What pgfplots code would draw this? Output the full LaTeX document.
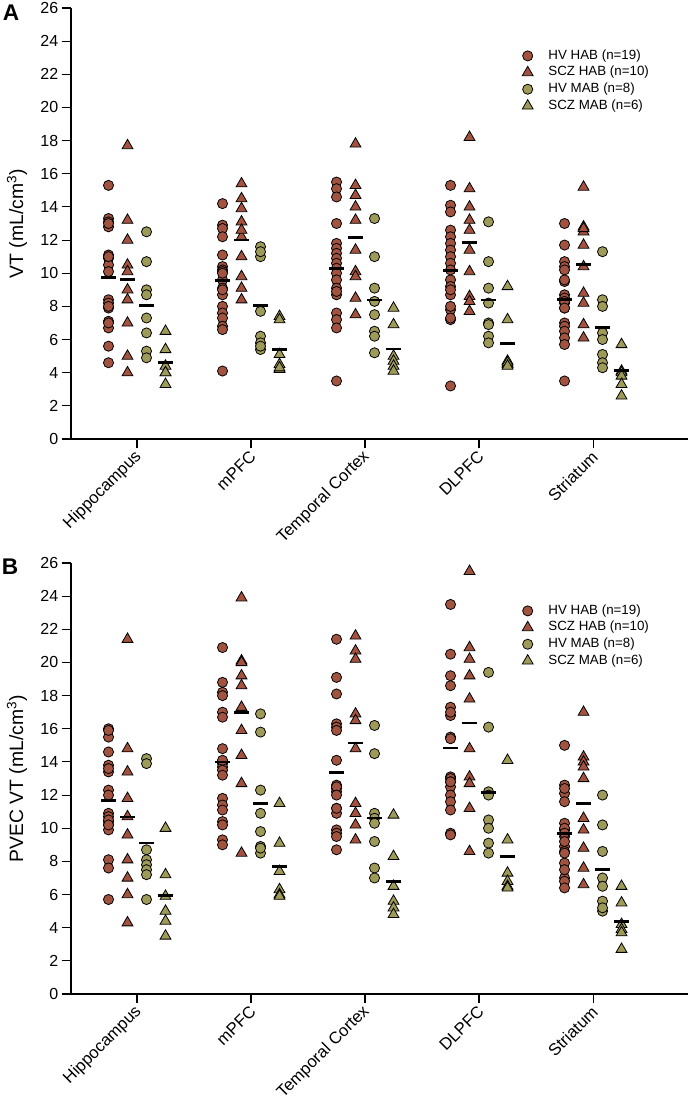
\documentclass[border=0pt]{standalone}
\usepackage{fontspec}
\setmainfont{Liberation Sans}
\usepackage{pgfplots}
\usepackage{pgfplotstable}
\pgfplotsset{compat=1.18}
\definecolor{hab}{HTML}{A2533F}
\definecolor{mab}{HTML}{9E9A58}

% panel A: VT, one column per region (Hippocampus, mPFC, Temporal Cortex, DLPFC, Striatum)
\pgfplotstableread{
c1 c2 c3 c4 c5
15.3 14.2 15.5 15.3 13.0
13.3 12.9 15.1 14.1 11.7
13.1 12.7 14.6 13.7 10.7
12.8 12.2 13.0 12.6 10.4
11.1 11.1 11.8 12.2 9.5
10.9 10.4 11.5 11.8 8.7
10.5 10.2 11.2 11.4 8.2
10.1 10.1 10.9 11.0 7.9
8.4 9.6 10.6 10.6 7.0
8.2 9.1 10.3 9.6 6.8
7.9 8.7 10.0 9.2 6.5
7.1 8.0 9.6 8.7 6.1
6.7 7.6 9.1 7.8 5.7
5.6 7.3 8.7 7.2 3.5
4.6 6.8 7.6 3.2 10.2
13.0 6.6 7.2 10.2 9.6
11.0 4.1 6.7 9.0 8.5
8.0 10.0 3.5 8.0 8.3
7.0 9.0 8.9 7.3 7.9
}\AhvH
\pgfplotstableread{
c1 c2 c3 c4 c5
17.7 15.4 17.8 18.2 15.2
13.2 14.5 15.3 15.1 12.8
12.0 13.9 14.7 14.0 12.5
10.5 13.1 14.0 13.2 11.7
10.1 12.2 13.2 12.6 10.4
9.0 11.0 11.4 11.4 8.8
8.4 9.8 10.1 10.1 6.9
7.0 9.1 9.8 8.6 6.1
5.0 8.4 8.5 8.3 12.7
4.0 12.6 7.5 7.7 8.2
}\AszH
\pgfplotstableread{
c1 c2 c3 c4 c5
12.5 11.6 13.3 13.1 11.3
10.7 11.0 11.0 10.7 8.4
9.0 7.7 9.1 9.1 8.0
8.7 6.2 8.3 8.2 6.4
7.3 5.8 7.5 7.0 6.0
6.4 5.4 6.5 6.2 5.1
5.3 11.3 6.2 5.8 4.6
4.9 5.6 5.2 6.9 4.3
}\AhvM
\pgfplotstableread{
c1 c2 c3 c4 c5
6.5 7.4 7.9 9.2 5.7
5.4 7.2 6.9 7.2 4.1
4.4 5.1 5.0 4.7 4.0
4.0 4.5 4.7 4.5 3.8
4.0 4.2 4.4 4.6 3.3
3.3 4.3 4.1 4.4 2.6
}\AszM
\pgfplotstableread{
r g1 g2 g3 g4
1 9.72 9.64 8.07 4.62
2 9.58 12.00 8.05 5.40
3 10.28 12.16 8.38 5.43
4 10.15 11.86 8.38 5.77
5 8.43 10.53 6.74 4.12
}\Amean

% panel B: PVEC VT
\pgfplotstableread{
c1 c2 c3 c4 c5
16.0 20.9 21.4 23.5 15.0
15.5 18.8 19.1 20.5 12.6
14.6 18.2 18.1 19.2 12.1
13.8 18.0 16.3 18.6 11.6
13.4 17.0 16.1 17.3 10.3
12.3 16.7 15.9 16.8 9.9
12.0 14.8 14.1 15.5 9.5
10.9 13.9 12.6 13.1 8.9
10.7 13.7 12.4 12.5 8.6
10.4 11.8 12.2 12.0 7.9
10.2 11.4 11.2 11.6 7.0
9.9 11.1 10.9 11.1 6.8
8.1 10.4 9.9 9.7 6.4
7.6 10.2 9.7 9.6 12.4
5.7 9.3 9.5 17.0 10.0
15.9 9.0 8.7 15.4 9.7
13.6 14.1 12.5 13.0 9.2
10.5 13.5 12.0 12.8 8.5
10.2 13.2 11.2 12.8 7.5
}\BhvH
\pgfplotstableread{
c1 c2 c3 c4 c5
21.4 23.9 21.6 25.5 17.0
14.8 20.1 20.7 20.9 14.3
13.4 20.0 20.2 20.2 14.0
11.8 19.2 16.9 19.2 13.7
10.7 18.6 16.5 17.8 13.0
9.6 17.3 14.8 14.8 10.6
8.1 15.9 11.5 13.1 9.9
7.0 14.4 10.9 12.7 8.8
6.0 12.7 10.2 11.2 7.6
4.3 8.5 9.3 8.6 6.6
}\BszH
\pgfplotstableread{
c1 c2 c3 c4 c5
14.2 16.9 16.2 19.4 12.0
13.9 15.8 14.5 16.1 10.2
8.7 12.3 10.9 12.2 8.6
8.1 10.9 10.6 12.0 7.0
7.8 9.8 10.3 10.5 6.5
7.5 8.9 9.2 10.0 5.6
7.2 8.5 7.6 9.1 5.0
5.7 8.8 7.0 8.5 5.2
}\BhvM
\pgfplotstableread{
c1 c2 c3 c4 c5
10.0 11.5 10.8 14.1 6.5
7.2 9.1 8.3 9.3 5.5
5.9 7.4 6.5 7.3 4.2
5.0 6.3 5.6 6.8 3.9
4.4 6.0 5.2 6.5 3.7
3.5 5.9 4.8 6.4 2.7
}\BszM
\pgfplotstableread{
r g1 g2 g3 g4
1 11.65 10.68 9.11 5.96
2 14.00 17.00 11.49 7.70
3 13.36 15.14 10.62 6.80
4 14.84 16.35 12.15 8.31
5 9.68 11.49 7.50 4.39
}\Bmean

\pgfplotsset{
  hvhab/.style={only marks, mark=*, mark size=3.8pt,
    mark options={fill=hab, draw=black, line width=0.6pt}},
  sczhab/.style={only marks, mark=triangle*, mark size=4.7pt,
    mark options={fill=hab, draw=black, line width=0.6pt}},
  hvmab/.style={only marks, mark=*, mark size=3.8pt,
    mark options={fill=mab, draw=black, line width=0.6pt}},
  sczmab/.style={only marks, mark=triangle*, mark size=4.7pt,
    mark options={fill=mab, draw=black, line width=0.6pt}},
  meanbar/.style={only marks, mark=-, mark size=5.7pt,
    mark options={draw=black, line width=2.1pt}, forget plot},
  panel/.style={
    scale only axis, width=462.75pt, height=323.25pt,
    xmin=0.421, xmax=5.833, ymin=0, ymax=26,
    ytick={0,2,...,26},
    xtick={1,2,3,4,5},
    xticklabels={Hippocampus,mPFC,Temporal Cortex,DLPFC,Striatum},
    axis x line*=bottom, axis y line*=left,
    tick align=outside, major tick length=7pt,
    axis line style={line width=0.8pt},
    every tick/.style={black, line width=0.8pt},
    /pgf/number format/assume math mode=true,
    yticklabel style={font=\fontsize{12}{14}\selectfont, xshift=1pt},
    xticklabel style={rotate=45, anchor=east, inner sep=1pt,
      xshift=-1pt, yshift=-4pt, font=\fontsize{12.5}{15}\selectfont},
    ylabel style={font=\fontsize{14.5}{17}\selectfont,
      at={(axis description cs:-0.0875,0.5)}, anchor=center},
    clip=false,
    legend cell align=left,
    legend style={draw=none, fill=none, at={(axis description cs:0.7245,0.915)},
      anchor=north west, font=\fontsize{10}{12}\selectfont, row sep=0pt,
      /tikz/every odd column/.append style={column sep=10pt},
      nodes={inner sep=1.5pt, text height=7.2pt, text depth=2.3pt}},
  }
}

\begin{document}
\begin{tikzpicture}
\useasboundingbox (-53.25pt,-497.25pt) rectangle (464.25pt,329.25pt);

\begin{axis}[panel, at={(0,0)}, anchor=south west, ylabel={VT (mL/cm\textsuperscript{3})}]
  \addlegendimage{hvhab}\addlegendentry{HV HAB (n=19)}
  \addlegendimage{sczhab}\addlegendentry{SCZ HAB (n=10)}
  \addlegendimage{hvmab}\addlegendentry{HV MAB (n=8)}
  \addlegendimage{sczmab}\addlegendentry{SCZ MAB (n=6)}
  \pgfplotsinvokeforeach{1,...,5}{
    \addplot[hvhab, forget plot] table[x expr=#1-0.25, y=c#1] {\AhvH};
    \addplot[sczhab, forget plot] table[x expr=#1-0.0833, y=c#1] {\AszH};
    \addplot[hvmab, forget plot] table[x expr=#1+0.0833, y=c#1] {\AhvM};
    \addplot[sczmab, forget plot] table[x expr=#1+0.25, y=c#1] {\AszM};
  }
  \addplot[meanbar] table[x expr=\thisrow{r}-0.25, y=g1] {\Amean};
  \addplot[meanbar] table[x expr=\thisrow{r}-0.0833, y=g2] {\Amean};
  \addplot[meanbar] table[x expr=\thisrow{r}+0.0833, y=g3] {\Amean};
  \addplot[meanbar] table[x expr=\thisrow{r}+0.25, y=g4] {\Amean};
\end{axis}

\begin{axis}[panel, at={(0,-416.25pt)}, anchor=south west, ylabel={PVEC VT (mL/cm\textsuperscript{3})}]
  \addlegendimage{hvhab}\addlegendentry{HV HAB (n=19)}
  \addlegendimage{sczhab}\addlegendentry{SCZ HAB (n=10)}
  \addlegendimage{hvmab}\addlegendentry{HV MAB (n=8)}
  \addlegendimage{sczmab}\addlegendentry{SCZ MAB (n=6)}
  \pgfplotsinvokeforeach{1,...,5}{
    \addplot[hvhab, forget plot] table[x expr=#1-0.25, y=c#1] {\BhvH};
    \addplot[sczhab, forget plot] table[x expr=#1-0.0833, y=c#1] {\BszH};
    \addplot[hvmab, forget plot] table[x expr=#1+0.0833, y=c#1] {\BhvM};
    \addplot[sczmab, forget plot] table[x expr=#1+0.25, y=c#1] {\BszM};
  }
  \addplot[meanbar] table[x expr=\thisrow{r}-0.25, y=g1] {\Bmean};
  \addplot[meanbar] table[x expr=\thisrow{r}-0.0833, y=g2] {\Bmean};
  \addplot[meanbar] table[x expr=\thisrow{r}+0.0833, y=g3] {\Bmean};
  \addplot[meanbar] table[x expr=\thisrow{r}+0.25, y=g4] {\Bmean};
\end{axis}

\node[font=\bfseries\fontsize{17}{20}\selectfont] at (-45pt,319.5pt) {A};
\node[font=\bfseries\fontsize{17}{20}\selectfont] at (-45.75pt,-96pt) {B};
\end{tikzpicture}
\end{document}
